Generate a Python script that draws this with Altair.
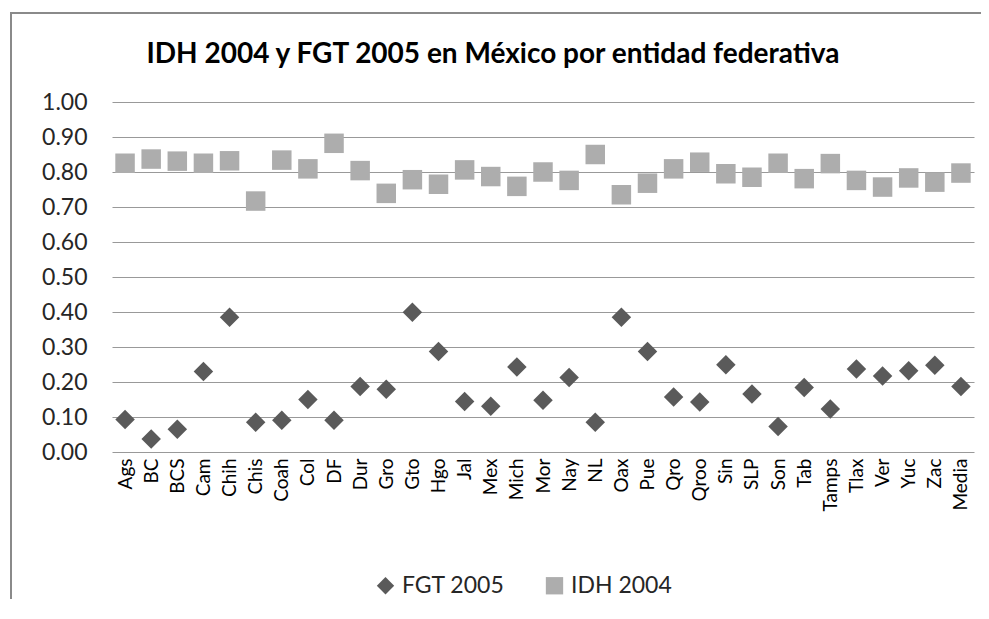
import altair as alt
import pandas as pd

categories = ["Ags", "BC", "BCS", "Cam", "Chih", "Chis", "Coah", "Col", "DF", "Dur",
              "Gro", "Gto", "Hgo", "Jal", "Mex", "Mich", "Mor", "Nay", "NL", "Oax",
              "Pue", "Qro", "Qroo", "Sin", "SLP", "Son", "Tab", "Tamps", "Tlax", "Ver",
              "Yuc", "Zac", "Media"]
idh_2004 = [0.825, 0.837, 0.831, 0.825, 0.832, 0.717, 0.834, 0.809, 0.882, 0.804,
            0.739, 0.778, 0.765, 0.806, 0.787, 0.759, 0.800, 0.776, 0.850, 0.735,
            0.768, 0.809, 0.828, 0.795, 0.785, 0.825, 0.781, 0.824, 0.776, 0.757,
            0.783, 0.771, 0.797]
fgt_2005 = [0.093, 0.037, 0.065, 0.230, 0.385, 0.085, 0.091, 0.150, 0.091, 0.187,
            0.179, 0.399, 0.287, 0.144, 0.131, 0.243, 0.148, 0.213, 0.085, 0.385,
            0.287, 0.157, 0.143, 0.249, 0.166, 0.073, 0.184, 0.123, 0.237, 0.217,
            0.232, 0.248, 0.187]
series_names = ["FGT 2005", "IDH 2004"]
y_ticks = [0.0, 0.1, 0.2, 0.3, 0.4, 0.5, 0.6, 0.7, 0.8, 0.9, 1.0]

rows = []
for c, v in zip(categories, fgt_2005):
    rows.append({"entidad": c, "serie": series_names[0], "valor": v})
for c, v in zip(categories, idh_2004):
    rows.append({"entidad": c, "serie": series_names[1], "valor": v})
df = pd.DataFrame(rows)

FONT = "Lato"
FRAME = "#8A8A8A"

frame_top = alt.Chart(alt.Data(values=[{}])).mark_rule(
    stroke=FRAME, strokeWidth=2
).encode(x=alt.value(-102), x2=alt.value(3000), y=alt.value(-89))

frame_left = alt.Chart(alt.Data(values=[{}])).mark_rule(
    stroke=FRAME, strokeWidth=2
).encode(x=alt.value(-101), y=alt.value(-90), y2=alt.value(3000))

points = alt.Chart(df).mark_point(filled=True, size=380, opacity=1).encode(
    x=alt.X("entidad:N", sort=categories, title=None,
            axis=alt.Axis(labelAngle=-90, labelFontSize=19, labelColor="#000000",
                          labelFont=FONT, domain=False, ticks=False, grid=False,
                          labelPadding=6)),
    y=alt.Y("valor:Q", title=None,
            scale=alt.Scale(domain=[0, 1], nice=False, zero=True),
            axis=alt.Axis(values=y_ticks, format=".2f", labelFontSize=23,
                          labelColor="#262626", labelFont=FONT, domain=False,
                          ticks=False, grid=True, gridColor="#999999",
                          gridWidth=1, labelPadding=25)),
    color=alt.Color("serie:N", title=None,
                    scale=alt.Scale(domain=series_names, range=["#5A5A5A", "#ADADAD"])),
    shape=alt.Shape("serie:N", title=None,
                    scale=alt.Scale(domain=series_names, range=["diamond", "square"])),
)

chart = alt.layer(frame_top, frame_left, points).properties(
    width=862,
    height=350,
    autosize=alt.AutoSizeParams(type="none"),
    padding={"left": 104, "top": 94, "right": 7, "bottom": 147},
    title=alt.TitleParams(
        "IDH 2004 y FGT 2005 en México por entidad federativa",
        font=FONT, fontSize=28, fontWeight="bold", color="#000000",
        anchor="middle", frame="group", dx=-50, offset=-58,
    ),
).configure_view(stroke=None).configure_legend(
    orient="none", legendX=262, legendY=472, direction="horizontal",
    labelFont=FONT, labelFontSize=23, labelColor="#262626",
    symbolSize=300, labelOffset=5, columnPadding=38, padding=0,
    symbolStrokeWidth=0,
)

chart.save("out.html", embed_options={"renderer": "svg", "actions": False})
